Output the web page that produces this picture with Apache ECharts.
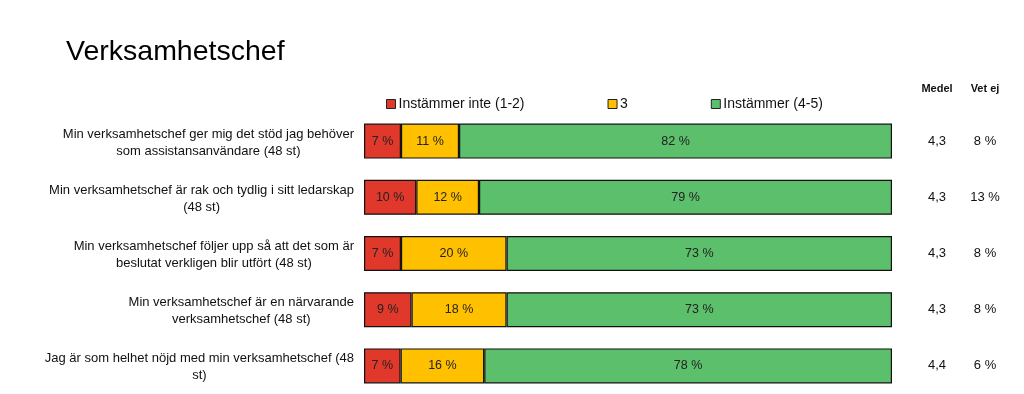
<!DOCTYPE html>
<html><head><meta charset="utf-8">
<script src="https://cdn.jsdelivr.net/npm/echarts@6/dist/echarts.min.js"></script>
<style>html,body{margin:0;padding:0;background:#fff}#c{width:1024px;height:394px}</style>
</head><body><div id="c"></div>
<script>
const categories = [
  'Min verksamhetschef ger mig det stöd jag behöver\nsom assistansanvändare (48 st)',
  'Min verksamhetschef är rak och tydlig i sitt ledarskap\n(48 st)',
  'Min verksamhetschef följer upp så att det som är\nbeslutat verkligen blir utfört (48 st)',
  'Min verksamhetschef är en närvarande\nverksamhetschef (48 st)',
  'Jag är som helhet nöjd med min verksamhetschef (48\nst)'
];
const seriesNames = ['Instämmer inte (1-2)', '3', 'Instämmer (4-5)'];
const disagree = [7, 10, 7, 9, 7];
const neutral = [11, 12, 20, 18, 16];
const agree = [82, 79, 73, 73, 78];
const medel = [4.3, 4.3, 4.3, 4.3, 4.4];
const vetEj = [8, 13, 8, 8, 6];
const colors = ['#E0392B', '#FFC000', '#5CBF6B'];

const raw = [disagree, neutral, agree];
const totals = categories.map((_, i) => disagree[i] + neutral[i] + agree[i]);
const font = '"Liberation Sans", Arial, sans-serif';

const chart = echarts.init(document.getElementById('c'));
chart.setOption({
  animation: false,
  textStyle: { fontFamily: font },
  title: {
    text: 'Verksamhetschef', left: 61, top: 33,
    textStyle: { fontFamily: font, fontSize: 28.5, fontWeight: 'normal', color: '#000' }
  },
  legend: {
    left: 381, top: 92, itemWidth: 9, itemHeight: 9, itemGap: 83,
    icon: 'rect',
    itemStyle: { borderColor: '#222', borderWidth: 1 },
    textStyle: { fontFamily: font, fontSize: 14, color: '#111', padding: [0, 0, 0, -2] },
    data: seriesNames
  },
  grid: { left: 364, right: 132, top: 113, bottom: 0, containLabel: false },
  xAxis: { type: 'value', min: 0, max: 100, show: false },
  yAxis: [
    {
      type: 'category', data: categories, inverse: true,
      axisLine: { show: false }, axisTick: { show: false },
      axisLabel: {
        fontFamily: font, fontSize: 13, color: '#111', margin: 10, lineHeight: 17, align: 'right',
        padding: [3, 0, 0, 0],
        formatter: v => v.split('\n').map(l => '{c|' + l + '}').join('\n'),
        rich: { c: { align: 'center', fontFamily: font, fontSize: 13, color: '#111', lineHeight: 17 } }
      }
    },
    {
      type: 'category', data: categories, inverse: true, position: 'right', offset: 45,
      name: 'Medel', nameLocation: 'start', nameGap: 19,
      nameTextStyle: { fontFamily: font, fontSize: 11, fontWeight: 'bold', color: '#111', align: 'center' },
      axisLine: { show: false }, axisTick: { show: false },
      axisLabel: { margin: 0, align: 'center', fontFamily: font, fontSize: 13, color: '#111',
        formatter: (v, i) => String(medel[i]).replace('.', ',') }
    },
    {
      type: 'category', data: categories, inverse: true, position: 'right', offset: 93,
      name: 'Vet ej', nameLocation: 'start', nameGap: 19,
      nameTextStyle: { fontFamily: font, fontSize: 11, fontWeight: 'bold', color: '#111', align: 'center' },
      axisLine: { show: false }, axisTick: { show: false },
      axisLabel: { margin: 0, align: 'center', fontFamily: font, fontSize: 13, color: '#111',
        formatter: (v, i) => vetEj[i] + ' %' }
    }
  ],
  series: seriesNames.map((name, s) => ({
    name, type: 'bar', stack: 'total', barWidth: 35,
    itemStyle: { color: colors[s], borderColor: '#111', borderWidth: 1.2 },
    label: {
      show: true, position: 'inside', fontFamily: font, fontSize: 12.5, color: '#222',
      formatter: p => raw[s][p.dataIndex] + ' %'
    },
    data: raw[s].map((v, i) => v / totals[i] * 100)
  }))
});
</script>
</body></html>
